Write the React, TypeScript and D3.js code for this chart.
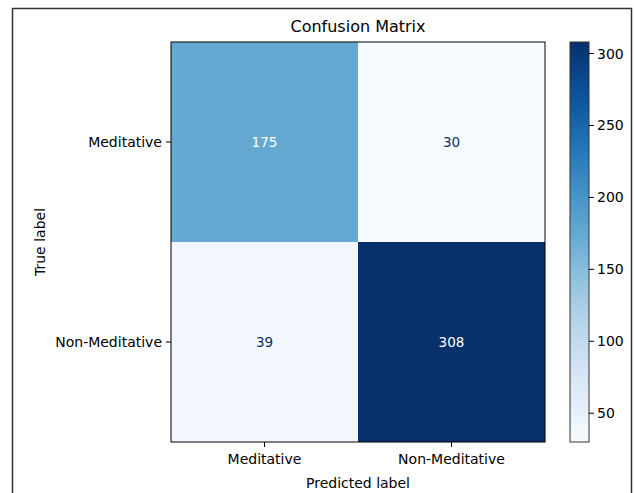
import * as d3 from "d3";

const labels = ["Meditative", "Non-Meditative"];
const matrix = [
  [175, 30],
  [39, 308],
];
const cbTicks = [50, 100, 150, 200, 250, 300];

const W = 634, H = 493;
const M = { left: 171, top: 42, right: 545, bottom: 442 };
const CB = { x0: 570, x1: 589 };
const font = "DejaVu Sans, sans-serif";

export default function App() {
  const flat = matrix.flat();
  const vmin = d3.min(flat)!, vmax = d3.max(flat)!;
  const color = d3.scaleSequential(d3.interpolateBlues).domain([vmin, vmax]);
  const x = d3.scaleBand<string>().domain(labels).range([M.left, M.right]);
  const y = d3.scaleBand<string>().domain(labels).range([M.top, M.bottom]);
  const cy = d3.scaleLinear().domain([vmin, vmax]).range([M.bottom, M.top]);
  const stops = d3.range(0, 1.0001, 0.05);

  return (
    <svg width={W} height={H} style={{ position: "absolute", left: 0, top: 0, background: "#fff" }}>
      <defs>
        <linearGradient id="cb" x1="0" y1="1" x2="0" y2="0">
          {stops.map((t) => (
            <stop key={t} offset={t} stopColor={color(vmin + t * (vmax - vmin))} />
          ))}
        </linearGradient>
      </defs>
      <rect x={12.5} y={8.5} width={619} height={490} fill="#fff" stroke="#333" strokeWidth={1.5} />
      <text x={(M.left + M.right) / 2} y={32} textAnchor="middle" fontFamily={font} fontSize={16} fill="#000">
        Confusion Matrix
      </text>
      {matrix.map((row, i) =>
        row.map((v, j) => (
          <g key={`${i}-${j}`}>
            <rect x={x(labels[j])} y={y(labels[i])} width={x.bandwidth()} height={y.bandwidth()} fill={color(v)} />
            <text
              x={x(labels[j])! + x.bandwidth() / 2}
              y={y(labels[i])! + y.bandwidth() / 2}
              textAnchor="middle"
              dominantBaseline="central"
              fontFamily={font}
              fontSize={13.5}
              fill={v > (vmin + vmax) / 2 ? "#fff" : "#08306b"}
            >
              {v}
            </text>
          </g>
        ))
      )}
      <rect x={M.left} y={M.top} width={M.right - M.left} height={M.bottom - M.top} fill="none" stroke="#000" strokeWidth={1} />
      {labels.map((l) => (
        <g key={"x" + l}>
          <line x1={x(l)! + x.bandwidth() / 2} x2={x(l)! + x.bandwidth() / 2} y1={M.bottom} y2={M.bottom + 5} stroke="#000" />
          <text x={x(l)! + x.bandwidth() / 2} y={M.bottom + 22} textAnchor="middle" fontFamily={font} fontSize={14}>{l}</text>
          <line x1={M.left - 5} x2={M.left} y1={y(l)! + y.bandwidth() / 2} y2={y(l)! + y.bandwidth() / 2} stroke="#000" />
          <text x={M.left - 9} y={y(l)! + y.bandwidth() / 2} textAnchor="end" dominantBaseline="central" fontFamily={font} fontSize={14}>{l}</text>
        </g>
      ))}
      <text x={(M.left + M.right) / 2} y={488} textAnchor="middle" fontFamily={font} fontSize={14}>Predicted label</text>
      <text transform={`translate(45,${(M.top + M.bottom) / 2}) rotate(-90)`} textAnchor="middle" fontFamily={font} fontSize={14}>True label</text>
      <rect x={CB.x0} y={M.top} width={CB.x1 - CB.x0} height={M.bottom - M.top} fill="url(#cb)" stroke="#333" strokeWidth={1} />
      {cbTicks.map((t) => (
        <g key={t}>
          <line x1={CB.x1} x2={CB.x1 + 5} y1={cy(t)} y2={cy(t)} stroke="#000" />
          <text x={CB.x1 + 8} y={cy(t)} dominantBaseline="central" fontFamily={font} fontSize={14}>{t}</text>
        </g>
      ))}
    </svg>
  );
}
